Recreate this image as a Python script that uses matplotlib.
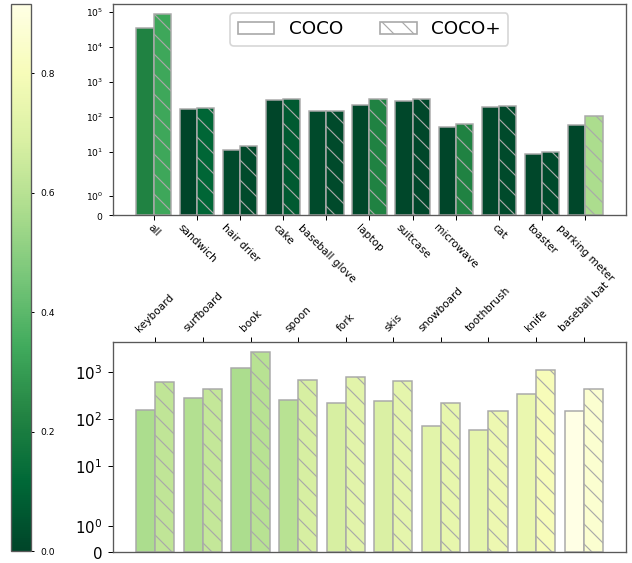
import numpy as np
import matplotlib
matplotlib.use("Agg")
import matplotlib.pyplot as plt
from matplotlib.patches import Patch

# category counts (COCO vs COCO+) and the score used to colour each bar
top_labels = ['all', 'sandwich', 'hair drier', 'cake', 'baseball glove', 'laptop',
              'suitcase', 'microwave', 'cat', 'toaster', 'parking meter']
top_coco = [35000, 165, 11, 300, 142, 210, 280, 51, 193, 8.5, 58]
top_plus = [86000, 180, 14.5, 327, 142, 313, 313, 60, 206, 9.6, 102]
top_coco_score = [0.22, 0.0, 0.02, 0.0, 0.02, 0.01, 0.01, 0.0, 0.01, 0.01, 0.01]
top_plus_score = [0.33, 0.11, 0.02, 0.07, 0.02, 0.22, 0.01, 0.22, 0.02, 0.02, 0.57]

bottom_labels = ['keyboard', 'surfboard', 'book', 'spoon', 'fork', 'skis',
                 'snowboard', 'toothbrush', 'knife', 'baseball bat']
bottom_coco = [158, 273, 1190, 256, 222, 244, 71, 58, 337, 150]
bottom_plus = [596, 438, 2600, 679, 785, 634, 214, 145, 1066, 438]
bottom_coco_score = [0.57, 0.59, 0.57, 0.60, 0.68, 0.69, 0.72, 0.73, 0.75, 0.916]
bottom_plus_score = [0.62, 0.63, 0.60, 0.68, 0.72, 0.73, 0.74, 0.76, 0.80, 0.86]

plt.rcParams['hatch.linewidth'] = 0.7

cmap = plt.get_cmap('YlGn_r')
all_scores = top_coco_score + top_plus_score + bottom_coco_score + bottom_plus_score
norm = matplotlib.colors.Normalize(vmin=0, vmax=max(all_scores))
edge = 'darkgrey'
hatch = '\\\\'


def draw_pairs(ax, coco, plus, coco_score, plus_score):
    x = np.arange(len(coco))
    ax.bar(x - 0.2, coco, width=0.4, color=cmap(norm(coco_score)),
           edgecolor=edge, linewidth=0.9)
    ax.bar(x + 0.2, plus, width=0.4, color=cmap(norm(plus_score)),
           edgecolor=edge, linewidth=0.9, hatch=hatch)
    ax.set_yscale('symlog')
    ax.set_ylim(bottom=0)
    ax.set_xticks(x)
    return x


fig = plt.figure(figsize=(632 / 120, 563 / 120), dpi=120)

cax = fig.add_axes([0.0174, 0.0213, 0.0312, 0.972])
ax1 = fig.add_axes([0.1788, 0.618, 0.8117, 0.375])
ax2 = fig.add_axes([0.1788, 0.0195, 0.8117, 0.373])

# colorbar
sm = matplotlib.cm.ScalarMappable(norm=norm, cmap=cmap)
cb = fig.colorbar(sm, cax=cax, ticks=[0.0, 0.2, 0.4, 0.6, 0.8])
cb.ax.tick_params(labelsize=5.5, length=2, width=0.6)
cb.outline.set_edgecolor('0.35')

# top panel
draw_pairs(ax1, top_coco, top_plus, top_coco_score, top_plus_score)
ax1.set_xticklabels(top_labels, rotation=-45, fontsize=6.3)
ax1.tick_params(axis='y', labelsize=5.5, length=2.5, width=0.6)
ax1.tick_params(axis='x', length=3, width=0.6, pad=1.5)
handles = [Patch(facecolor='white', edgecolor=edge, label='COCO'),
           Patch(facecolor='white', edgecolor=edge, hatch=hatch, label='COCO+')]
ax1.legend(handles=handles, loc='upper center', ncol=2, fontsize=11)

# bottom panel, labels on top
draw_pairs(ax2, bottom_coco, bottom_plus, bottom_coco_score, bottom_plus_score)
ax2.xaxis.tick_top()
ax2.set_xticklabels(bottom_labels, rotation=45, fontsize=6.3)
ax2.tick_params(axis='y', labelsize=9, length=3, width=0.6)
ax2.tick_params(axis='x', length=3, width=0.6, pad=2)

for ax in (ax1, ax2):
    for s in ax.spines.values():
        s.set_edgecolor('0.35')

fig.savefig('out.png', dpi=120)
